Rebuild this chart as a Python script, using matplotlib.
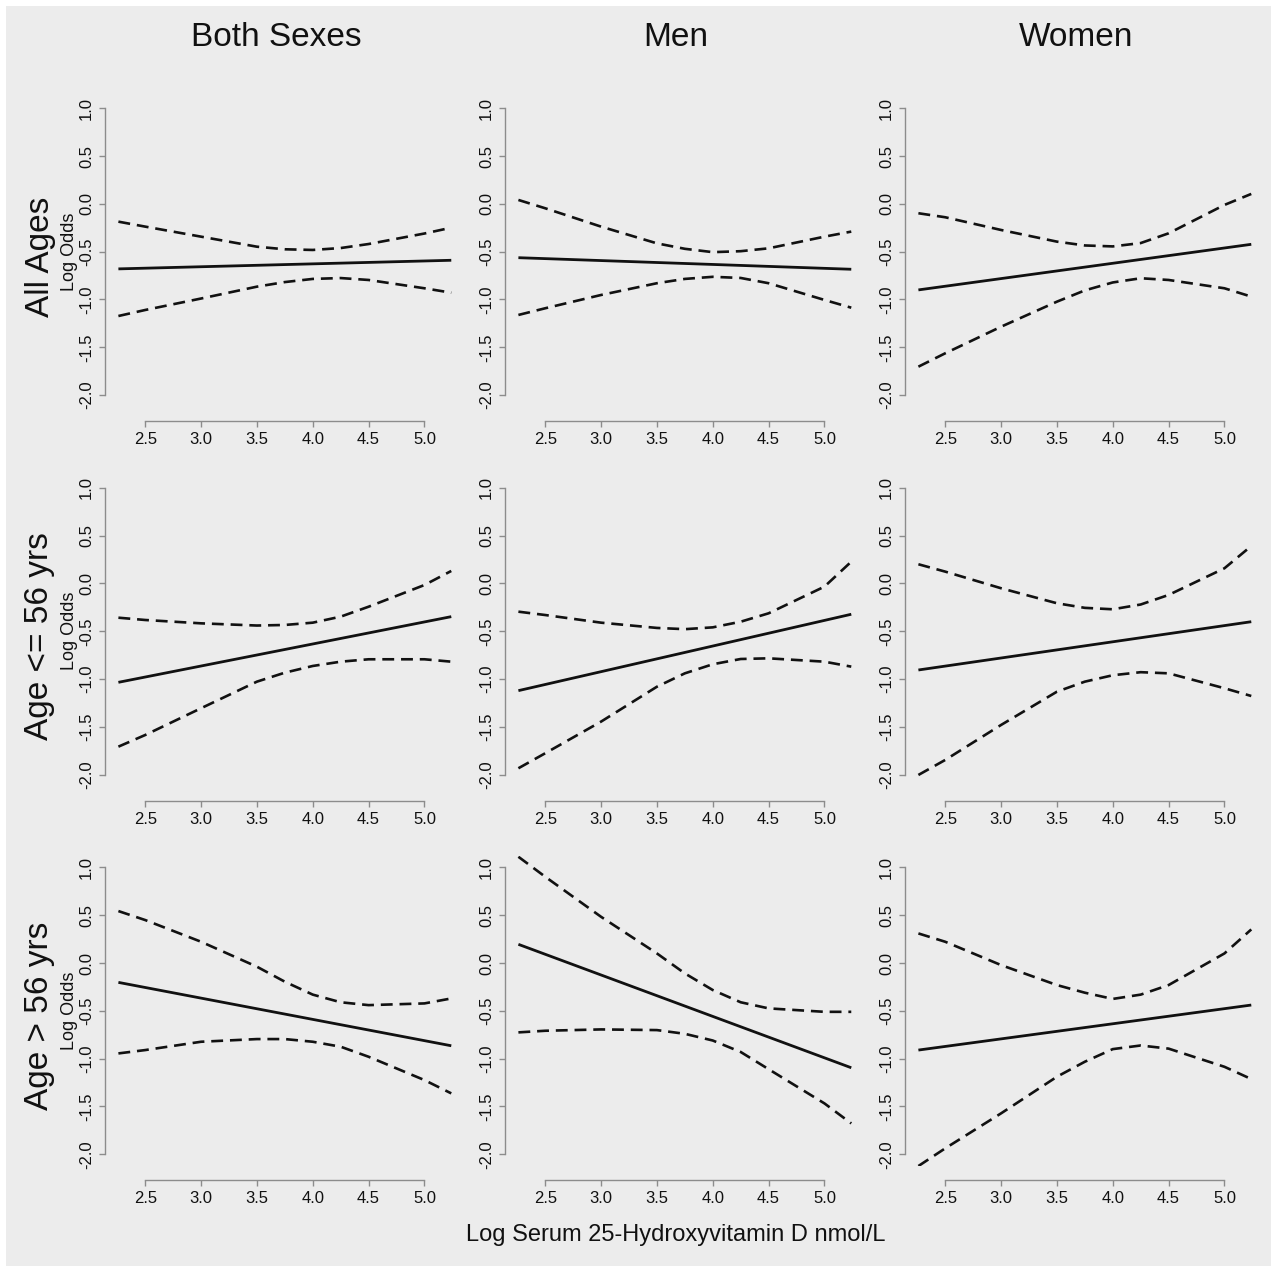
import matplotlib
matplotlib.use("Agg")
import matplotlib.pyplot as plt
from matplotlib.patches import Rectangle
from matplotlib.ticker import FixedLocator, FixedFormatter

plt.rcParams['font.family'] = ['Liberation Sans', 'DejaVu Sans']

# ---------------- data ----------------
col_titles = ["Both Sexes", "Men", "Women"]
row_titles = ["All Ages", "Age <= 56 yrs", "Age > 56 yrs"]
x_label = "Log Serum 25-Hydroxyvitamin D nmol/L"
y_label = "Log Odds"
x_ticks = [2.5, 3.0, 3.5, 4.0, 4.5, 5.0]
y_ticks = [-2.0, -1.5, -1.0, -0.5, 0.0, 0.5, 1.0]

x_fit = [2.26, 5.24]
x_ci = [2.26, 2.5, 3.0, 3.5, 3.75, 4.0, 4.25, 4.5, 5.0, 5.24]

# All ages
fit_all_both = [-0.68, -0.59]
upper_all_both = [-0.186, -0.238, -0.343, -0.448, -0.475, -0.482, -0.462, -0.42, -0.31, -0.249]
lower_all_both = [-1.173, -1.11, -0.99, -0.866, -0.818, -0.785, -0.776, -0.796, -0.883, -0.929]

fit_all_men = [-0.563, -0.684]
upper_all_men = [0.041, -0.046, -0.238, -0.413, -0.47, -0.505, -0.495, -0.465, -0.343, -0.29]
lower_all_men = [-1.162, -1.092, -0.953, -0.83, -0.785, -0.763, -0.775, -0.83, -1.005, -1.086]

fit_all_women = [-0.90, -0.423]
upper_all_women = [-0.098, -0.14, -0.273, -0.395, -0.435, -0.445, -0.41, -0.308, -0.011, 0.104]
lower_all_women = [-1.703, -1.563, -1.285, -1.023, -0.905, -0.822, -0.778, -0.796, -0.883, -0.97]

# Age <= 56
fit_young_both = [-1.034, -0.347]
upper_young_both = [-0.358, -0.382, -0.417, -0.44, -0.434, -0.41, -0.347, -0.243, -0.016, 0.131]
lower_young_both = [-1.707, -1.585, -1.305, -1.027, -0.933, -0.863, -0.818, -0.793, -0.793, -0.818]

fit_young_men = [-1.121, -0.322]
upper_young_men = [-0.295, -0.33, -0.41, -0.465, -0.478, -0.459, -0.40, -0.312, -0.033, 0.228]
lower_young_men = [-1.933, -1.776, -1.445, -1.08, -0.94, -0.845, -0.79, -0.783, -0.818, -0.87]

fit_young_women = [-0.905, -0.40]
upper_young_women = [0.201, 0.124, -0.05, -0.207, -0.255, -0.27, -0.22, -0.12, 0.159, 0.392]
lower_young_women = [-2.003, -1.846, -1.48, -1.132, -1.027, -0.96, -0.928, -0.94, -1.096, -1.177]

# Age > 56
fit_old_both = [-0.202, -0.865]
upper_old_both = [0.544, 0.45, 0.223, -0.038, -0.195, -0.33, -0.41, -0.44, -0.422, -0.37]
lower_old_both = [-0.945, -0.91, -0.823, -0.795, -0.795, -0.823, -0.875, -0.98, -1.224, -1.363]

fit_old_men = [0.196, -1.095]
upper_old_men = [1.112, 0.903, 0.484, 0.101, -0.108, -0.282, -0.41, -0.474, -0.51, -0.51]
lower_old_men = [-0.725, -0.708, -0.694, -0.701, -0.74, -0.81, -0.93, -1.11, -1.468, -1.677]

fit_old_women = [-0.91, -0.439]
upper_old_women = [0.31, 0.223, -0.021, -0.23, -0.31, -0.375, -0.33, -0.23, 0.101, 0.352]
lower_old_women = [-2.123, -1.938, -1.572, -1.189, -1.032, -0.9, -0.862, -0.895, -1.085, -1.213]

panels = [
    [(fit_all_both, upper_all_both, lower_all_both),
     (fit_all_men, upper_all_men, lower_all_men),
     (fit_all_women, upper_all_women, lower_all_women)],
    [(fit_young_both, upper_young_both, lower_young_both),
     (fit_young_men, upper_young_men, lower_young_men),
     (fit_young_women, upper_young_women, lower_young_women)],
    [(fit_old_both, upper_old_both, lower_old_both),
     (fit_old_men, upper_old_men, lower_old_men),
     (fit_old_women, upper_old_women, lower_old_women)],
]

# ---------------- layout ----------------
W, H = 1277, 1269
fig = plt.figure(figsize=(W / 100, H / 100), dpi=100)
fig.patch.set_facecolor('white')
fig.patches.append(Rectangle((6 / W, 1 - 1266 / H), (1271 - 6) / W, (1266 - 6) / H,
                             transform=fig.transFigure, facecolor='#ececec',
                             edgecolor='none', zorder=-10))

axis_grey = '#8c8c8c'
text_col = '#111111'
xlim = (2.14, 5.36)
ylim = (-2.12, 1.12)
px_per_x = 111.7
px_per_y = 95.6
ax_w = (xlim[1] - xlim[0]) * px_per_x
ax_h = (ylim[1] - ylim[0]) * px_per_y

for r in range(3):
    for c in range(3):
        left = 105 + 400 * c
        top = 96.8 + 379.6 * r
        ax = fig.add_axes([left / W, 1 - (top + ax_h) / H, ax_w / W, ax_h / H])
        ax.set_facecolor('none')
        fit, up, lo = panels[r][c]
        ax.plot(x_fit, fit, color='#111111', lw=2.0, solid_capstyle='butt')
        ax.plot(x_ci, up, color='#111111', lw=1.9, linestyle=(0, (4.5, 2.6)))
        ax.plot(x_ci, lo, color='#111111', lw=1.9, linestyle=(0, (4.5, 2.6)))
        ax.set_xlim(*xlim)
        ax.set_ylim(*ylim)
        for s in ['top', 'right']:
            ax.spines[s].set_visible(False)
        for s in ['left', 'bottom']:
            ax.spines[s].set_color(axis_grey)
            ax.spines[s].set_linewidth(1.0)
        ax.spines['left'].set_bounds(-2.0, 1.0)
        ax.spines['bottom'].set_bounds(2.5, 5.0)
        ax.spines['bottom'].set_position(('outward', 10.4))
        ax.xaxis.set_major_locator(FixedLocator(x_ticks))
        ax.xaxis.set_major_formatter(FixedFormatter([f"{v:.1f}" for v in x_ticks]))
        ax.yaxis.set_major_locator(FixedLocator(y_ticks))
        ax.yaxis.set_major_formatter(FixedFormatter([f"{v:.1f}" for v in y_ticks]))
        ax.tick_params(axis='both', direction='out', length=4.5, width=1.0,
                       color=axis_grey, labelcolor=text_col, labelsize=12, pad=3.5)
        ax.tick_params(axis='y', labelrotation=90)
        for lab in ax.get_yticklabels():
            lab.set_va('center')

# column titles
for c, t in enumerate(col_titles):
    fig.text((276 + 400 * c) / W, 1 - 37 / H, t, ha='center', va='center',
             fontsize=24, color=text_col)

# row titles and y labels
for r, t in enumerate(row_titles):
    yc = 251.7 + 379.6 * r
    fig.text(40 / W, 1 - (yc + 5) / H, t, rotation=90, ha='center', va='center',
             fontsize=24, color=text_col)
    fig.text(70 / W, 1 - yc / H, y_label, rotation=90, ha='center', va='center',
             fontsize=13, color=text_col)

fig.text(676 / W, 1 - 1235 / H, x_label, ha='center', va='center',
         fontsize=17, color=text_col)

fig.savefig('out.png', dpi=100, facecolor=fig.get_facecolor())
